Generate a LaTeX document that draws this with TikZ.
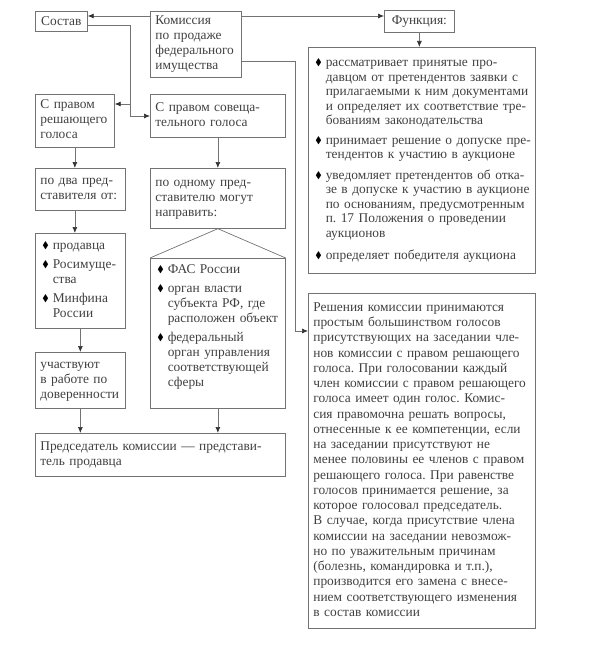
\documentclass[tikz,border=0pt]{standalone}
\usepackage{fontspec}
\usepackage{amssymb}
\setmainfont{Liberation Serif}
\usetikzlibrary{arrows.meta}
\definecolor{ln}{gray}{0.45}
\definecolor{tx}{gray}{0.25}
\newcommand\bl{\raisebox{0.15ex}{\scalebox{0.72}{\color{black}$\blacklozenge$}}}
\newcommand\fs{\fontsize{13.4}{15}\selectfont\frenchspacing}
\newcommand\tb[1]{\begin{tabular}{@{}l@{}}#1\end{tabular}}
\newenvironment{blist}{\begin{tabular}{@{}l@{\hspace{4pt}}l@{}}}{\end{tabular}}
\begin{document}
\begin{tikzpicture}[x=1pt, y=-1pt,
box/.style={draw=ln, line width=0.7pt, anchor=north west, inner xsep=5pt, inner ysep=2pt,
    align=left, text=tx, font=\fs},
arr/.style={draw=ln, line width=0.7pt, -{Latex[length=6pt,width=5pt,color=black!80]}},
lst/.style={box, inner xsep=7pt}
]
\useasboundingbox (0,0) rectangle (589,666);

\node[box, text width=81pt, minimum height=66pt] (kom) at (150,11) {\tb{Комиссия\\по продаже\\федерального\\имущества}};
\node[box, minimum width=52pt, minimum height=20pt, align=center] (sostav) at (35,11) {Состав};
\node[box, minimum width=70pt, minimum height=22pt, align=center] (func) at (384,10) {Функция:};
\node[lst, text width=213pt, minimum height=226pt, font=\fontsize{13.4}{14.5}\selectfont\frenchspacing] (funcs) at (308,47) {%
\begin{blist}
\bl & рассматривает принятые про-\\
 & давцом от претендентов заявки с\\
 & прилагаемыми к ним документами\\
 & и определяет их соответствие тре-\\
 & бованиям законодательства\\[5pt]
\bl & принимает решение о допуске пре-\\
 & тендентов к участию в аукционе\\[6pt]
\bl & уведомляет претендентов об отка-\\
 & зе в допуске к участию в аукционе\\
 & по основаниям, предусмотренным\\
 & п. 17 Положения о проведении\\
 & аукционов\\[8pt]
\bl & определяет победителя аукциона
\end{blist}};

\node[box, text width=69pt, minimum height=53pt] (resh) at (35,94) {\tb{С правом\\решающего\\голоса}};
\node[box, text width=125pt, minimum height=43pt] (sov) at (150,94) {\tb{С правом совеща-\\тельного голоса}};
\node[box, text width=80pt, minimum height=42pt] (podva) at (35,168) {\tb{по два пред-\\ставителя от:}};
\node[box, text width=125pt, minimum height=60pt] (poodn) at (150,168) {\tb{по одному пред-\\ставителю могут\\направить:}};
\node[lst, text width=76pt, minimum height=95pt] (prod) at (35,233) {%
\begin{blist}
\bl & продавца\\[4pt]
\bl & Росимуще-\\
 & ства\\[4pt]
\bl & Минфина\\
 & России
\end{blist}};
\node[lst, text width=121pt, minimum height=150pt] (fas) at (150,258) {%
\begin{blist}
\bl & ФАС России\\[4pt]
\bl & орган власти\\
 & субъекта РФ, где\\
 & расположен объект\\[4pt]
\bl & федеральный\\
 & орган управления\\
 & соответствующей\\
 & сферы\\[12pt]
\end{blist}};
\node[box, text width=80pt, minimum height=56pt] (uch) at (35,352) {\tb{участвуют\\в работе по\\доверенности}};
\node[box, text width=240pt, minimum height=43pt] (pred) at (35,433) {\tb{Председатель комиссии — представи-\\тель продавца}};
\node[box, text width=217pt, minimum height=335pt, font=\fontsize{13.4}{15.25}\selectfont\frenchspacing] (reshen) at (308,293) {\tb{%
Решения комиссии принимаются\\
простым большинством голосов\\
присутствующих на заседании чле-\\
нов комиссии с правом решающего\\
голоса. При голосовании каждый\\
член комиссии с правом решающего\\
голоса имеет один голос. Комис-\\
сия правомочна решать вопросы,\\
отнесенные к ее компетенции, если\\
на заседании присутствуют не\\
менее половины ее членов с правом\\
решающего голоса. При равенстве\\
голосов принимается решение, за\\
которое голосовал председатель.\\
В случае, когда присутствие члена\\
комиссии на заседании невозмож-\\
но по уважительным причинам\\
(болезнь, командировка и т.п.),\\
производится его замена с внесе-\\
нием соответствующего изменения\\
в состав комиссии}};

\draw[arr] ([yshift=-5pt]kom.north west) -- ([yshift=-5pt]sostav.north east);
\draw[arr] ([yshift=-5pt]kom.north east) -- ([yshift=-6pt]func.north west);
\draw[arr] (func.south) -- (func.south |- funcs.north);
\draw[arr] ([yshift=16pt]kom.south east) -| ([xshift=-13pt,yshift=-38pt]reshen.north west) -- ([yshift=-38pt]reshen.north west);
\draw[arr] ([yshift=6pt]sostav.south east) -| ([xshift=-20pt,yshift=-22pt]sov.north west) -- ([yshift=-22pt]sov.north west);
\draw[arr] ([xshift=-20pt,yshift=-10pt]sov.north west) -- ([yshift=-10pt]resh.north east);
\draw[arr] (resh.south) -- (resh.south |- podva.north);
\draw[arr] (sov.south) -- (sov.south |- poodn.north);
\draw[arr] (resh.south |- podva.south) -- (resh.south |- prod.north);
\draw[arr] (prod.south) -- (uch.north);
\draw[arr] (uch.south) -- (uch.south |- pred.north);
\draw[arr] (fas.south) -- (fas.south |- pred.north);
\draw[draw=ln, line width=0.7pt] (fas.north west) -- (poodn.south) -- (fas.north east);

\end{tikzpicture}
\end{document}
